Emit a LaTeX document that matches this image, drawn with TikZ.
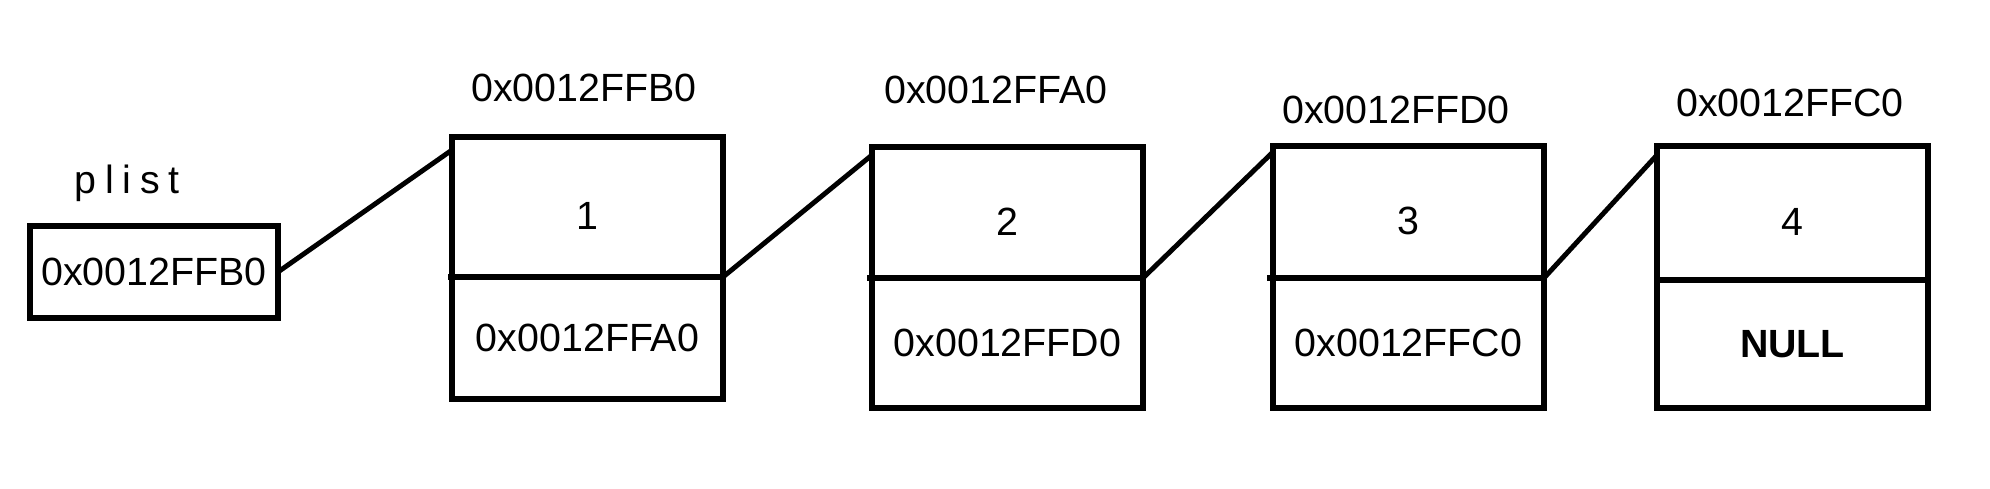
\documentclass[tikz,border=0pt]{standalone}
\usepackage{fontspec}
\setmainfont{Liberation Sans}
\usetikzlibrary{positioning}

\tikzset{
  cell/.style={draw, line width=1.7pt, outer sep=0pt, inner sep=0pt, minimum width=2.71cm},
  valcell/.style={cell, text height=13pt, text depth=0pt},
  link/.style={line width=1.4pt},
}

\begin{document}
\begin{tikzpicture}[x=1cm,y=1cm,font=\fontsize{11.2}{13}\selectfont]
\useasboundingbox (0,0) rectangle (19.90,4.89);
% head pointer
\node[draw, line width=1.7pt, outer sep=0pt, inner sep=0pt, minimum width=2.48cm, minimum height=0.92cm] (head) at (1.54,2.17) {0x0012FFB0};
\node (plist) at (1.27,3.06) {\addfontfeature{LetterSpace=22}plist};
% list nodes
\node[valcell, minimum height=1.40cm, anchor=north west] (v1) at (4.52,3.52) {1};
\node[cell, minimum height=1.22cm, below=0pt of v1] (p1) {0x0012FFA0};
\node[valcell, minimum height=1.31cm, anchor=north west] (v2) at (8.72,3.42) {2};
\node[cell, minimum height=1.30cm, below=0pt of v2] (p2) {0x0012FFD0};
\node[valcell, minimum height=1.32cm, anchor=north west] (v3) at (12.73,3.43) {3};
\node[cell, minimum height=1.30cm, below=0pt of v3] (p3) {0x0012FFC0};
\node[valcell, minimum height=1.34cm, anchor=north west] (v4) at (16.57,3.43) {4};
\node[cell, minimum height=1.28cm, below=0pt of v4] (p4) {\bfseries NULL};
% addresses
\node (a1) at (5.84,4.01) {0x0012FFB0};
\node (a2) at (9.96,3.99) {0x0012FFA0};
\node (a3) at (13.96,3.79) {0x0012FFD0};
\node (a4) at (17.90,3.86) {0x0012FFC0};
% dividers sticking out a bit
\draw[line width=1.7pt] ([xshift=-0.04cm]v1.south west) -- (v1.south west);
\draw[line width=1.7pt] ([xshift=-0.05cm]v2.south west) -- (v2.south west);
\draw[line width=1.7pt] ([xshift=-0.06cm]v3.south west) -- (v3.south west);
% links
\draw[link] (head.east) -- ([yshift=-0.13cm]v1.north west);
\draw[link] (v1.south east) -- ([yshift=-0.08cm]v2.north west);
\draw[link] (v2.south east) -- ([yshift=-0.06cm]v3.north west);
\draw[link] (v3.south east) -- ([yshift=-0.09cm]v4.north west);
\end{tikzpicture}
\end{document}
